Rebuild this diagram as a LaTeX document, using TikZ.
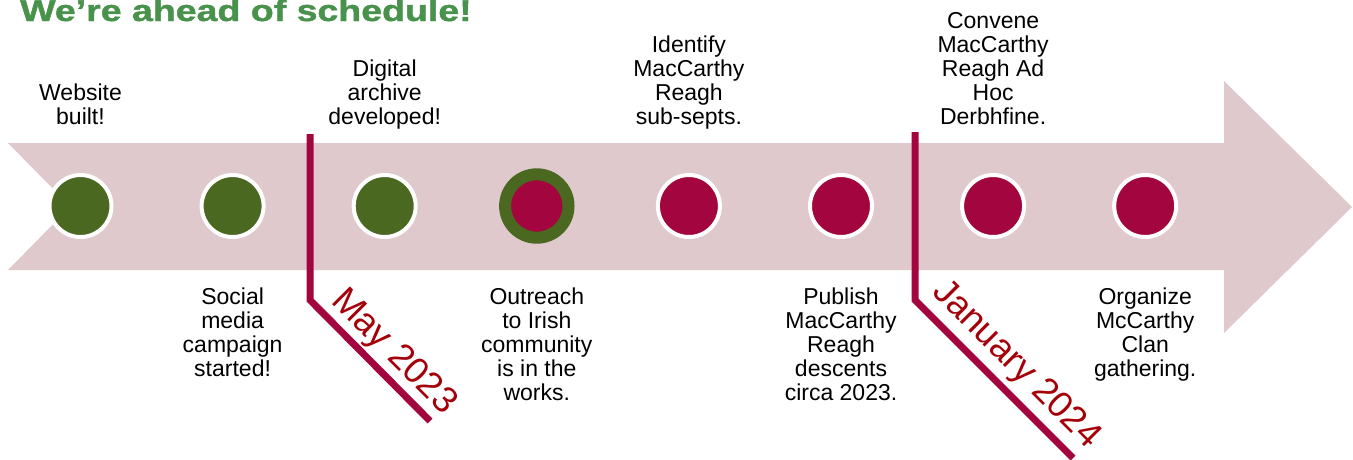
\documentclass[tikz,border=0pt]{standalone}
\usepackage{fontspec}
\setmainfont{Liberation Sans}
\newfontfamily\headfont{Liberation Sans}[BoldFeatures={FakeBold=1.2}]
\definecolor{band}{RGB}{224,201,205}
\definecolor{done}{RGB}{75,104,32}
\definecolor{todo}{RGB}{163,6,62}
\definecolor{datered}{RGB}{165,0,10}
\definecolor{headgreen}{RGB}{72,146,76}
\begin{document}
\begin{tikzpicture}[x=1pt,y=-1pt,
  milestone/.style={circle, inner sep=0pt, minimum size=62pt, line width=4pt, draw=white},
  caption/.style={align=center, inner sep=0pt, anchor=base, font=\fontsize{23}{24}\selectfont},
  marker/.style={draw=todo, line width=7pt, line join=miter},
  datetext/.style={text=datered, font=\fontsize{36.5}{36.5}\selectfont, rotate=-45, anchor=base west, inner sep=0pt}]

% page frame
\fill[white] (0,0) rectangle (1353,459);
\useasboundingbox (0,0) rectangle (1353,459);

% heading
\node (title) [anchor=base west, inner sep=0pt, text=headgreen,
  font=\fontsize{30}{30}\headfont\bfseries] at (20,21)
  {\scalebox{1.25}[1]{We’re ahead of schedule!}};

% timeline band with notched tail and arrow head
\fill[band] (8,143) -- (1224,143) -- (1224,81) -- (1352,207) -- (1224,333)
  -- (1224,270) -- (8,270) -- (70.5,206.5) -- cycle;

% date markers
\coordinate (m1top) at (310,134);
\coordinate (m1bend) at (310,300);
\coordinate (m1end) at (430,421);
\draw[marker] (m1top) -- (m1bend) -- (m1end);
\node (may) [datetext] at (330,302) {May 2023};

\coordinate (m2top) at (915,132);
\coordinate (m2bend) at (915,300);
\coordinate (m2end) at (1073,458);
\draw[marker] (m2top) -- (m2bend) -- (m2end);
\node (jan) [datetext] at (931,293) {January 2024};

% milestones
\node (c1) [milestone, fill=done] at (80.5,206) {};
\node (c2) [milestone, fill=done] at (232.6,206) {};
\node (c3) [milestone, fill=done] at (384.7,206) {};
\node (c4) [circle, inner sep=0pt, minimum size=63.4pt, line width=12pt, draw=done, fill=todo] at (536.8,206) {};
\node (c5) [milestone, fill=todo] at (688.9,206) {};
\node (c6) [milestone, fill=todo] at (841,206) {};
\node (c7) [milestone, fill=todo] at (993.1,206) {};
\node (c8) [milestone, fill=todo] at (1145.2,206) {};

% captions above the band
\node (l1) [caption] at (80.5,124.5) {Website\\built!};
\node (l3) [caption] at (384.7,124.5) {Digital\\archive\\developed!};
\node (l5) [caption] at (688.9,124.5) {Identify\\MacCarthy\\Reagh\\sub-septs.};
\node (l7) [caption] at (993.1,124.5) {Convene\\MacCarthy\\Reagh Ad\\Hoc\\Derbhfine.};

% captions below the band
\node (l2) [caption] at (232.6,376.5) {Social\\media\\campaign\\started!};
\node (l4) [caption] at (536.8,400.5) {Outreach\\to Irish\\community\\is in the\\works.};
\node (l6) [caption] at (841,400.5) {Publish\\MacCarthy\\Reagh\\descents\\circa 2023.};
\node (l8) [caption] at (1145.2,376.5) {Organize\\McCarthy\\Clan\\gathering.};
\end{tikzpicture}
\end{document}
